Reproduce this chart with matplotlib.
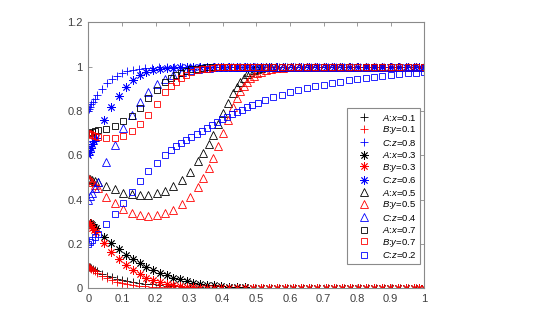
import matplotlib
matplotlib.use("Agg")
import matplotlib.pyplot as plt

plt.rcParams['font.family'] = ['Liberation Sans', 'DejaVu Sans']
plt.rcParams['mathtext.fontset'] = 'custom'
plt.rcParams['mathtext.it'] = 'Liberation Sans:italic'
plt.rcParams['mathtext.rm'] = 'Liberation Sans'

# ---- solve 1: x=0.1, y=0.1, z=0.8 (plus markers)
t1 = [0, 0.003, 0.006, 0.009, 0.013, 0.019, 0.027, 0.042, 0.057, 0.071, 0.086, 0.1,
      0.116, 0.133, 0.151, 0.17, 0.19, 0.211, 0.233, 0.256, 0.28, 0.304, 0.328, 0.352,
      0.376, 0.4, 0.424, 0.448, 0.472, 0.496, 0.52, 0.544, 0.568, 0.592, 0.616, 0.64,
      0.664, 0.688, 0.712, 0.736, 0.76, 0.784, 0.808, 0.832, 0.856, 0.88, 0.904, 0.928,
      0.952, 0.976, 1.0]
x1 = [0.1, 0.097, 0.094, 0.091, 0.087, 0.082, 0.076, 0.066, 0.057, 0.05, 0.044, 0.039,
      0.034, 0.029, 0.025, 0.021, 0.018, 0.014, 0.011, 0.009, 0.007, 0.005, 0.004, 0.003,
      0.002, 0.0015, 0.001, 0, 0, 0, 0, 0, 0, 0, 0, 0,
      0, 0, 0, 0, 0, 0, 0, 0, 0, 0, 0, 0,
      0, 0, 0]
y1 = [0.1, 0.096, 0.092, 0.088, 0.083, 0.076, 0.068, 0.055, 0.045, 0.037, 0.03, 0.025,
      0.02, 0.016, 0.012, 0.009, 0.007, 0.005, 0.004, 0.003, 0.002, 0.001, 0, 0,
      0, 0, 0, 0, 0, 0, 0, 0, 0, 0, 0, 0,
      0, 0, 0, 0, 0, 0, 0, 0, 0, 0, 0, 0,
      0, 0, 0]
z1 = [0.8, 0.81, 0.82, 0.83, 0.84, 0.855, 0.872, 0.9, 0.925, 0.944, 0.958, 0.97,
      0.979, 0.986, 0.991, 0.994, 0.996, 0.998, 0.999, 1, 1, 1, 1, 1,
      1, 1, 1, 1, 1, 1, 1, 1, 1, 1, 1, 1,
      1, 1, 1, 1, 1, 1, 1, 1, 1, 1, 1, 1,
      1, 1, 1]

# ---- solve 2: x=0.3, y=0.3, z=0.6 (asterisk markers)
t2 = [0, 0.004, 0.008, 0.012, 0.017, 0.022, 0.046, 0.068, 0.09, 0.112, 0.133, 0.153,
      0.173, 0.193, 0.213, 0.233, 0.253, 0.273, 0.293, 0.313, 0.333, 0.353, 0.373, 0.395,
      0.418, 0.442, 0.466, 0.49, 0.514, 0.538, 0.562, 0.586, 0.61, 0.634, 0.658, 0.682,
      0.706, 0.73, 0.754, 0.778, 0.802, 0.826, 0.85, 0.874, 0.898, 0.922, 0.946, 0.97,
      0.985, 1.0]
x2 = [0.3, 0.295, 0.29, 0.284, 0.277, 0.27, 0.233, 0.204, 0.177, 0.152, 0.132, 0.113,
      0.096, 0.082, 0.069, 0.058, 0.048, 0.04, 0.032, 0.026, 0.021, 0.017, 0.013, 0.01,
      0.007, 0.005, 0.004, 0.003, 0.002, 0.001, 0, 0, 0, 0, 0, 0,
      0, 0, 0, 0, 0, 0, 0, 0, 0, 0, 0, 0,
      0, 0]
y2 = [0.3, 0.29, 0.28, 0.272, 0.262, 0.252, 0.205, 0.164, 0.132, 0.105, 0.083, 0.064,
      0.048, 0.036, 0.027, 0.02, 0.014, 0.01, 0.007, 0.005, 0.003, 0.002, 0.001, 0,
      0, 0, 0, 0, 0, 0, 0, 0, 0, 0, 0, 0,
      0, 0, 0, 0, 0, 0, 0, 0, 0, 0, 0, 0,
      0, 0]
z2 = [0.6, 0.615, 0.635, 0.65, 0.665, 0.68, 0.76, 0.82, 0.87, 0.91, 0.94, 0.962,
      0.975, 0.984, 0.99, 0.994, 0.996, 0.998, 0.999, 1, 1, 1, 1, 1,
      1, 1, 1, 1, 1, 1, 1, 1, 1, 1, 1, 1,
      1, 1, 1, 1, 1, 1, 1, 1, 1, 1, 1, 1,
      1, 1]

# ---- solve 3: x=0.5, y=0.5, z=0.4 (triangle markers)
t3 = [0, 0.006, 0.012, 0.02, 0.03, 0.054, 0.079, 0.104, 0.129, 0.153, 0.177, 0.203,
      0.228, 0.252, 0.278, 0.302, 0.327, 0.342, 0.358, 0.372, 0.387, 0.401, 0.415, 0.43,
      0.442, 0.452, 0.462, 0.472, 0.482, 0.492, 0.503, 0.515, 0.528, 0.543, 0.56, 0.58,
      0.602, 0.626, 0.65, 0.675, 0.7, 0.725, 0.75, 0.775, 0.8, 0.825, 0.85, 0.875,
      0.9, 0.925, 0.95, 0.975, 1.0]
x3 = [0.5, 0.494, 0.489, 0.483, 0.478, 0.463, 0.446, 0.432, 0.425, 0.42, 0.421, 0.428,
      0.44, 0.46, 0.487, 0.525, 0.574, 0.61, 0.652, 0.694, 0.742, 0.79, 0.838, 0.88,
      0.91, 0.932, 0.95, 0.965, 0.976, 0.984, 0.99, 0.994, 0.997, 0.998, 0.999, 1,
      1, 1, 1, 1, 1, 1, 1, 1, 1, 1, 1, 1,
      1, 1, 1, 1, 1]
y3 = [0.5, 0.49, 0.478, 0.465, 0.452, 0.414, 0.384, 0.357, 0.342, 0.332, 0.327, 0.329,
      0.339, 0.354, 0.38, 0.411, 0.459, 0.498, 0.542, 0.587, 0.64, 0.703, 0.76, 0.817,
      0.86, 0.89, 0.913, 0.932, 0.947, 0.96, 0.97, 0.978, 0.985, 0.99, 0.994, 0.996,
      0.998, 0.999, 1, 1, 1, 1, 1, 1, 1, 1, 1, 1,
      1, 1, 1, 1, 1]
z3 = [0.4, 0.415, 0.432, 0.452, 0.478, 0.569, 0.647, 0.722, 0.782, 0.84, 0.885, 0.922,
      0.945, 0.963, 0.976, 0.985, 0.991, 0.994, 0.996, 0.997, 0.998, 0.999, 1, 1,
      1, 1, 1, 1, 1, 1, 1, 1, 1, 1, 1, 1,
      1, 1, 1, 1, 1, 1, 1, 1, 1, 1, 1, 1,
      1, 1, 1, 1, 1]

# ---- solve 4: x=0.7, y=0.7, z=0.2 (square markers)
t4 = [0, 0.006, 0.012, 0.021, 0.03, 0.054, 0.079, 0.104, 0.129, 0.153, 0.178, 0.203,
      0.228, 0.245, 0.261, 0.277, 0.292, 0.307, 0.322, 0.337, 0.352, 0.367, 0.382, 0.397,
      0.412, 0.427, 0.442, 0.457, 0.472, 0.487, 0.505, 0.527, 0.551, 0.575, 0.6, 0.625,
      0.65, 0.675, 0.7, 0.725, 0.75, 0.775, 0.8, 0.825, 0.85, 0.875, 0.9, 0.925,
      0.95, 0.975, 1.0]
x4 = [0.7, 0.703, 0.706, 0.71, 0.713, 0.72, 0.734, 0.755, 0.779, 0.815, 0.857, 0.895,
      0.93, 0.95, 0.962, 0.973, 0.982, 0.988, 0.992, 0.995, 0.997, 0.998, 0.999, 1,
      1, 1, 1, 1, 1, 1, 1, 1, 1, 1, 1, 1,
      1, 1, 1, 1, 1, 1, 1, 1, 1, 1, 1, 1,
      1, 1, 1]
y4 = [0.7, 0.697, 0.693, 0.688, 0.685, 0.677, 0.677, 0.687, 0.71, 0.741, 0.782, 0.83,
      0.885, 0.912, 0.932, 0.95, 0.963, 0.975, 0.983, 0.988, 0.992, 0.995, 0.997, 0.998,
      0.999, 1, 1, 1, 1, 1, 1, 1, 1, 1, 1, 1,
      1, 1, 1, 1, 1, 1, 1, 1, 1, 1, 1, 1,
      1, 1, 1]
z4 = [0.2, 0.209, 0.219, 0.232, 0.245, 0.289, 0.334, 0.384, 0.436, 0.486, 0.529, 0.567,
      0.602, 0.622, 0.64, 0.655, 0.67, 0.684, 0.697, 0.71, 0.725, 0.738, 0.75, 0.762,
      0.774, 0.785, 0.796, 0.806, 0.816, 0.826, 0.838, 0.85, 0.862, 0.873, 0.884, 0.894,
      0.903, 0.911, 0.919, 0.926, 0.933, 0.939, 0.945, 0.95, 0.955, 0.959, 0.963, 0.967,
      0.97, 0.973, 0.976]

labels = [r'$A$:$x$=0.1', r'$B$:$y$=0.1', r'$C$:$z$=0.8',
          r'$A$:$x$=0.3', r'$B$:$y$=0.3', r'$C$:$z$=0.6',
          r'$A$:$x$=0.5', r'$B$:$y$=0.5', r'$C$:$z$=0.4',
          r'$A$:$x$=0.7', r'$B$:$y$=0.7', r'$C$:$z$=0.2']
xticks = [0, 0.1, 0.2, 0.3, 0.4, 0.5, 0.6, 0.7, 0.8, 0.9, 1]
xticklabels = ['0', '0.1', '0.2', '0.3', '0.4', '0.5', '0.6', '0.7', '0.8', '0.9', '1']
yticks = [0, 0.2, 0.4, 0.6, 0.8, 1, 1.2]
yticklabels = ['0', '0.2', '0.4', '0.6', '0.8', '1', '1.2']

fig = plt.figure(figsize=(5.34, 3.25), dpi=100)
ax = fig.add_axes([0.1654, 0.113, 0.6292, 0.818])

colors = ['k', (1, 0, 0), (0, 0, 1)]
star = (8, 2, 0)
groups = [
    (t1, [x1, y1, z1], '+', 5.5),
    (t2, [x2, y2, z2], star, 6.0),
    (t3, [x3, y3, z3], '^', 5.5),
    (t4, [x4, y4, z4], 's', 4.5),
]
k = 0
for t, series, mk, ms in groups:
    for s, c in zip(series, colors):
        ax.plot(t, s, linestyle='none', marker=mk, markersize=ms,
                markerfacecolor='none', markeredgecolor=c, markeredgewidth=0.6,
                label=labels[k])
        k += 1

ax.set_xlim(0, 1)
ax.set_ylim(0, 1.2)
ax.set_xticks(xticks)
ax.set_xticklabels(xticklabels)
ax.set_yticks(yticks)
ax.set_yticklabels(yticklabels)
axis_gray = '#8a8a8a'
for sp in ax.spines.values():
    sp.set_color(axis_gray)
    sp.set_linewidth(0.8)
ax.tick_params(direction='in', length=3, width=0.6, color=axis_gray,
               labelsize=8, labelcolor='#404040', top=True, right=True, pad=4)

leg = ax.legend(loc='lower right', bbox_to_anchor=(0.987, 0.091), fontsize=6.8,
                fancybox=False, framealpha=1, edgecolor='#8a8a8a',
                borderpad=0.4, labelspacing=0.16, handletextpad=0.5,
                handlelength=2.8, borderaxespad=0)
leg.get_frame().set_linewidth(0.8)

fig.savefig('out.png', dpi=100)
